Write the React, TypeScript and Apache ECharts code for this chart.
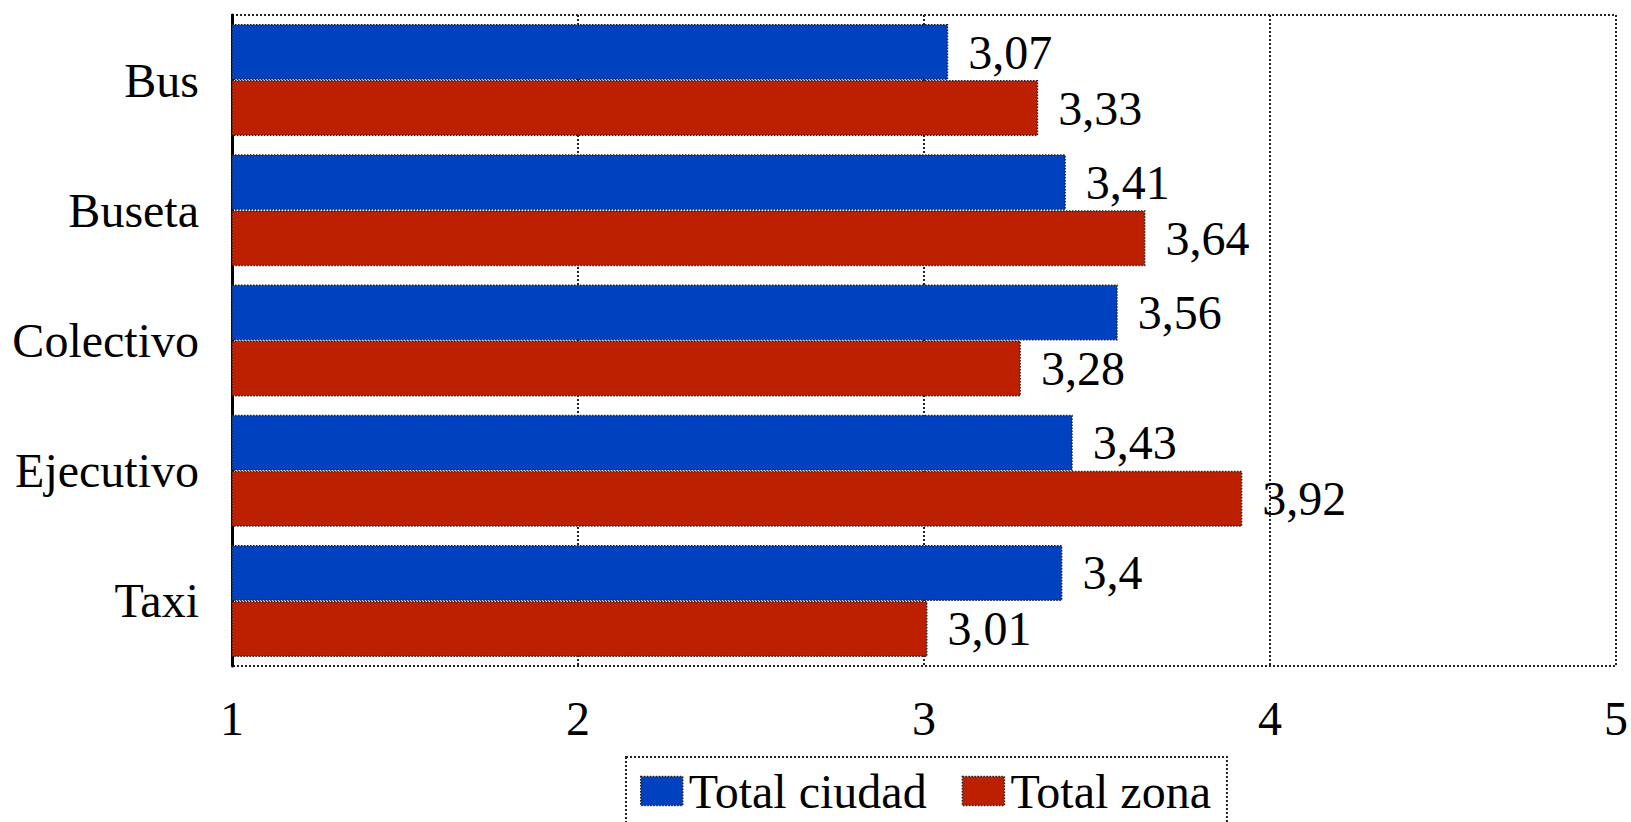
import React, { useEffect, useRef } from "react";
import * as echarts from "echarts";

const categories = ["Bus", "Buseta", "Colectivo", "Ejecutivo", "Taxi"];
const totalCiudad = [3.07, 3.41, 3.56, 3.43, 3.4];
const totalZona = [3.33, 3.64, 3.28, 3.92, 3.01];
const seriesNames = ["Total ciudad", "Total zona"];

const FONT = "'Liberation Serif', 'Times New Roman', serif";

export default function App() {
  const ref = useRef<HTMLDivElement>(null);
  useEffect(() => {
    if (!ref.current) return;
    const chart = echarts.init(ref.current, null, { renderer: "svg" });
    const fmt = (p: any) => String(p.value).replace(".", ",");
    const label = {
      show: true,
      position: "right",
      distance: 20,
      formatter: fmt,
      color: "#000",
      fontFamily: FONT,
      fontSize: 48,
    };
    chart.setOption({
      animation: false,
      grid: {
        left: 232,
        right: 7,
        top: 15,
        bottom: 156,
        show: true,
        borderColor: "#222",
        borderWidth: 2,
        borderType: "dotted",
      },
      legend: {
        left: 626,
        top: 757,
        data: seriesNames,
        itemWidth: 42,
        itemHeight: 29,
        itemGap: 35,
        padding: [10, 16, 30, 14],
        borderColor: "#222",
        borderWidth: 2,
        borderType: "dotted",
        textStyle: { fontFamily: FONT, fontSize: 48, color: "#000", padding: [0, 0, 0, 1] },
        icon: "rect",
        itemStyle: { borderColor: "#222", borderWidth: 1.5, borderType: "dotted" },
      },
      xAxis: {
        type: "value",
        min: 1,
        max: 5,
        interval: 1,
        axisLine: { show: false },
        axisTick: { show: false },
        axisLabel: { fontFamily: FONT, fontSize: 48, color: "#000", margin: 28 },
        splitLine: { show: true, lineStyle: { color: "#222", width: 2, type: "dotted" } },
      },
      yAxis: {
        type: "category",
        data: categories,
        inverse: true,
        axisLine: { show: true, lineStyle: { color: "#000", width: 3 } },
        axisTick: { show: false },
        axisLabel: { fontFamily: FONT, fontSize: 48, color: "#000", margin: 33 },
      },
      series: [
        {
          name: seriesNames[0],
          type: "bar",
          data: totalCiudad,
          barGap: "0%",
          barCategoryGap: "14%",
          itemStyle: { color: "#0041BF", borderColor: "#222", borderWidth: 1.5, borderType: "dotted" },
          label,
        },
        {
          name: seriesNames[1],
          type: "bar",
          data: totalZona,
          barGap: "0%",
          barCategoryGap: "14%",
          itemStyle: { color: "#BD2000", borderColor: "#222", borderWidth: 1.5, borderType: "dotted" },
          label,
        },
      ],
    });
    return () => chart.dispose();
  }, []);
  return (
    <div
      ref={ref}
      style={{ position: "fixed", left: 0, top: 0, width: 1631, height: 822, background: "#fff" }}
    />
  );
}
